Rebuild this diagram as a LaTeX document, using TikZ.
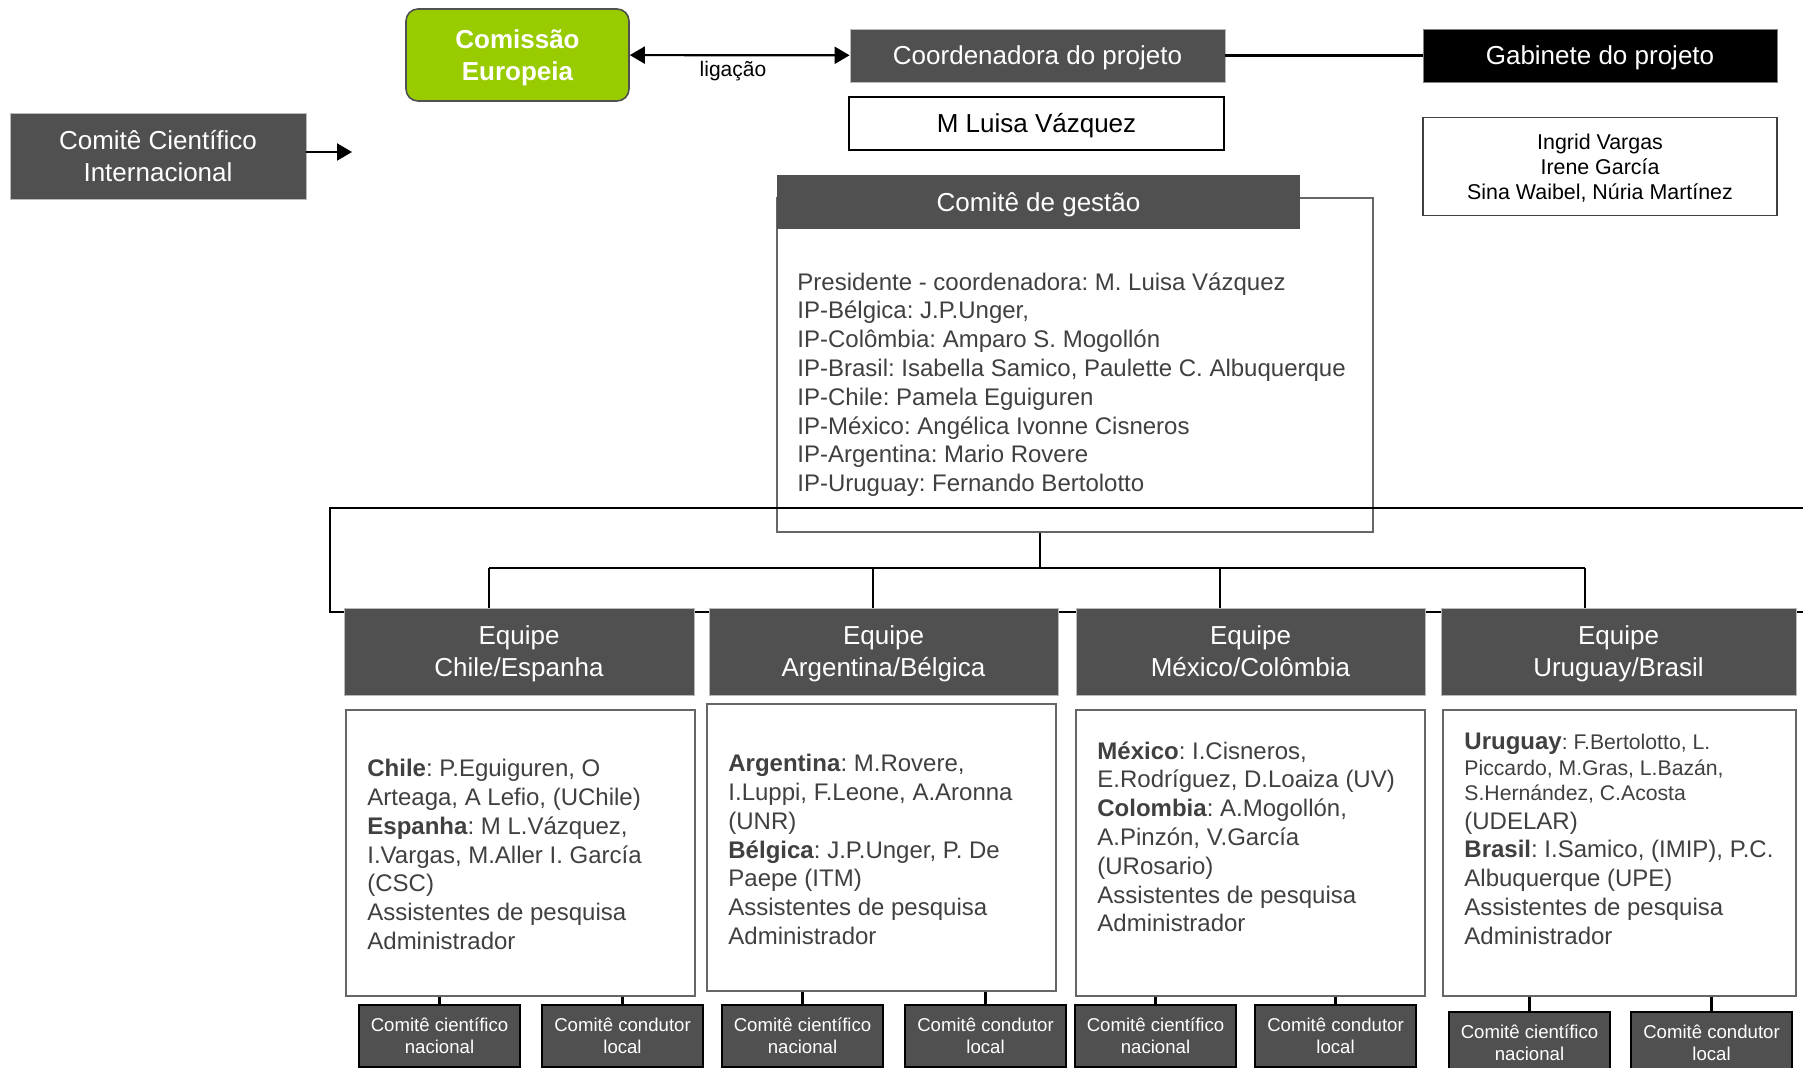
\documentclass[tikz,border=0pt]{standalone}
\usepackage{fontspec}
\setmainfont{Liberation Sans}
\usepackage{tikz}
\usetikzlibrary{arrows.meta,calc}
\usepackage{xcolor}
\definecolor{boxgray}{HTML}{505050}
\definecolor{textgray}{HTML}{404040}
\definecolor{eugreen}{HTML}{99CC00}
\definecolor{linegray}{HTML}{666666}
\frenchspacing

\begin{document}
\begin{tikzpicture}[x=0.5pt, y=-0.5pt, >={Triangle[length=7.5pt,width=8.5pt]},
    darkbox/.style={fill=boxgray, draw=gray!55, line width=0.4pt, text=white, align=center, inner sep=0pt, font=\fontsize{13}{16}\selectfont},
    oneline/.style={text height=9.15pt, text depth=0pt},
    whitebox/.style={fill=white, draw=black, line width=0.8pt, align=center, inner sep=0pt, font=\fontsize{13}{16}\selectfont},
    infobox/.style={fill=white, draw=linegray, line width=0.8pt, inner sep=0pt},
    infotext/.style={anchor=north west, inner sep=0pt, align=left, text=textgray, font=\fontsize{12}{14.4}\selectfont},
    teambox/.style={darkbox, minimum height=43.5pt, text depth=0pt},
    smallbox/.style={fill=boxgray, draw=black, line width=1pt, text=white, align=center, inner sep=0pt, minimum width=80.5pt, minimum height=31pt, font=\fontsize{9.3}{11}\selectfont},
    link/.style={line width=1.1pt}]
    \useasboundingbox (0,0) rectangle (1803,1068);
    \clip (0,0) rectangle (1803,1068);

    \node[rounded corners=6pt, fill=eugreen, draw=boxgray, line width=0.8pt, text=white, align=center, text depth=0pt, minimum width=111.5pt, minimum height=46pt, font=\bfseries\fontsize{13}{16}\selectfont] (comissao) at (517.5,55) {Comissão\\Europeia};
    \node[darkbox, oneline, minimum width=187.5pt, minimum height=26.5pt] (coord) at (1037.5,55.5) {Coordenadora do projeto};
    \node[whitebox, oneline, minimum width=187.5pt, minimum height=26.5pt] (mluisa) at (1036.5,123.5) {M Luisa Vázquez};
    \node[darkbox, oneline, fill=black, draw=gray, minimum width=177pt, minimum height=26.5pt] (gabinete) at (1600,55.5) {Gabinete do projeto};
    \node[whitebox, draw=darkgray, text depth=0pt, minimum width=177pt, minimum height=49pt, font=\fontsize{10.7}{12.5}\selectfont] (gabnames) at (1600,166.5) {Ingrid Vargas\\Irene García\\Sina Waibel, Núria Martínez};
    \node[darkbox, minimum width=148pt, minimum height=43pt] (cci) at (158,156) {Comitê Científico\\Internacional};
    \coordinate (cciend) at (352,152);

    \draw[link, <->] (comissao) -- (coord);
    \node[font=\fontsize{10.5}{12}\selectfont] (ligacao) at (733,71) {ligação};
    \draw[link] (coord) -- (gabinete);
    \draw[link, ->] (cci.east |- cciend) -- (cciend);

    % comite de gestao
    \node[infobox, minimum width=298pt, minimum height=167pt] (gestaobox) at (1075,365) {};
    \node[darkbox, oneline, draw=none, minimum width=261.5pt, minimum height=27pt] (gestaohead) at (1038.5,202) {Comitê de gestão};
    \node[infotext] (gestaotext) at (797,272) {Presidente - coordenadora: M. Luisa Vázquez\\IP-Bélgica: J.P.Unger,\\IP-Colômbia: Amparo S. Mogollón\\IP-Brasil: Isabella Samico, Paulette C. Albuquerque\\IP-Chile: Pamela Eguiguren\\IP-México: Angélica Ivonne Cisneros\\IP-Argentina: Mario Rovere\\IP-Uruguay: Fernando Bertolotto};

    \draw[line width=1.3pt] (1810,508) -- (330,508) -- (330,612) -- (1810,612);

    \coordinate (busmid) at (1040,568);
    \coordinate (drop1) at (489,568);
    \coordinate (drop2) at (873,568);
    \coordinate (drop3) at (1220,568);
    \coordinate (drop4) at (1585,568);
    \draw[link] (gestaobox.south -| busmid) -- (busmid);
    \draw[link] (drop1) -- (drop4);

    % equipes
    \node[teambox, minimum width=175pt] (team1) at (519,651.5) {Equipe\\Chile/Espanha};
    \node[teambox, minimum width=174.5pt] (team2) at (883.5,651.5) {Equipe\\Argentina/Bélgica};
    \node[teambox, minimum width=174.5pt] (team3) at (1250.5,651.5) {Equipe\\México/Colômbia};
    \node[teambox, minimum width=177.5pt] (team4) at (1618.5,651.5) {Equipe\\Uruguay/Brasil};
    \foreach \i in {1,...,4}
        \draw[link] (drop\i) -- (drop\i |- team\i.north);

    \node[infobox, minimum width=174.5pt, minimum height=143pt] (chilebox) at (520.5,853) {};
    \node[infobox, minimum width=174.5pt, minimum height=143.5pt] (argbox) at (881.5,847.5) {};
    \node[infobox, minimum width=174.5pt, minimum height=143pt] (mexbox) at (1250.5,853) {};
    \node[infobox, minimum width=176.5pt, minimum height=143pt] (urubox) at (1619.5,853) {};

    \node[infotext] (chiletext) at (367,759) {\textbf{Chile}: P.Eguiguren, O\\Arteaga, A Lefio, (UChile)\\\textbf{Espanha}: M L.Vázquez,\\I.Vargas, M.Aller I. García\\(CSC)\\Assistentes de pesquisa\\Administrador};
    \node[infotext] (argtext) at (728,754) {\textbf{Argentina}: M.Rovere,\\I.Luppi, F.Leone, A.Aronna\\(UNR)\\\textbf{Bélgica}: J.P.Unger, P. De\\Paepe (ITM)\\Assistentes de pesquisa\\Administrador};
    \node[infotext] (mextext) at (1097,741) {\textbf{México}: I.Cisneros,\\E.Rodríguez, D.Loaiza (UV)\\\textbf{Colombia}: A.Mogollón,\\A.Pinzón, V.García\\(URosario)\\Assistentes de pesquisa\\Administrador};
    \node[infotext] (urutext) at (1464,733) {\textbf{Uruguay}{\fontsize{10.6}{12}\selectfont: F.Bertolotto, L.}\\[-1.8pt]{\fontsize{10.6}{12}\selectfont Piccardo, M.Gras, L.Bazán,}\\[-1.8pt]{\fontsize{10.6}{12}\selectfont S.Hernández, C.Acosta}\\(UDELAR)\\\textbf{Brasil}: I.Samico, (IMIP), P.C.\\Albuquerque (UPE)\\Assistentes de pesquisa\\Administrador};

    % comites locais
    \foreach \i/\bx/\xn/\xl/\yy in {1/chilebox/439.5/622.5/1036, 2/argbox/802.5/985.5/1036, 3/mexbox/1155.5/1335.5/1036, 4/urubox/1529.5/1711.5/1043} {
        \node[smallbox] (nat\i) at (\xn,\yy) {Comitê científico\\nacional};
        \node[smallbox] (loc\i) at (\xl,\yy) {Comitê condutor\\local};
        \draw[link] (\bx.south -| nat\i) -- (nat\i.north);
        \draw[link] (\bx.south -| loc\i) -- (loc\i.north);
    }
\end{tikzpicture}
\end{document}
